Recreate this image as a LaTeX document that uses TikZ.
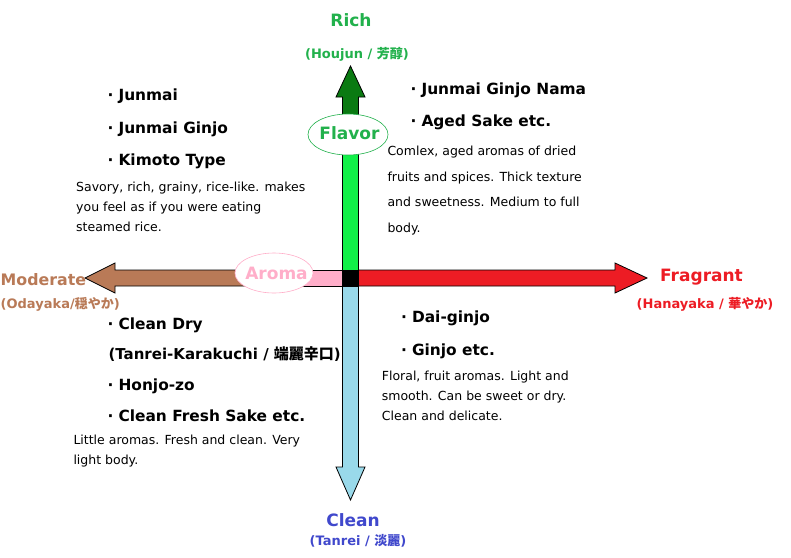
\documentclass[tikz,border=0pt]{standalone}
\usepackage{fontspec}
\setmainfont{DejaVu Sans}
\newfontfamily\jpfont{Noto Sans CJK JP}
\definecolor{richgreen}{HTML}{22B14C}
\definecolor{stemgreen}{HTML}{11F048}
\definecolor{headgreen}{HTML}{0A7A12}
\definecolor{fragred}{HTML}{ED1C24}
\definecolor{modbrown}{HTML}{B97A57}
\definecolor{aromapink}{HTML}{FFAEC9}
\definecolor{cleanblue}{HTML}{99D9EA}
\definecolor{cleanink}{HTML}{4048CC}

\begin{document}
\begin{tikzpicture}[x=1pt,y=-1pt,
		arrowbody/.style={draw=black,line width=0.8pt,line join=miter},
		axislabel/.style={anchor=base,inner sep=0pt,font=\bfseries\fontsize{17}{17}\selectfont},
		sublabel/.style={anchor=base,inner sep=0pt,font=\bfseries\fontsize{13}{13}\selectfont},
		item/.style={anchor=base west,inner sep=0pt,font=\bfseries\fontsize{15.4}{16}\selectfont},
		note/.style={anchor=base west,inner sep=0pt,align=left,font=\fontsize{12.5}{20}\selectfont}]
				\useasboundingbox[fill=white] (0,0) rectangle (791,557);
				% the four arrows of the taste chart
				\filldraw[arrowbody,fill=stemgreen] (342.5,118) rectangle (358.5,270);
				\filldraw[arrowbody,fill=headgreen] (342.5,118) -- (342.5,97) -- (336,97) -- (350.5,66)
					-- (365,97) -- (358.5,97) -- (358.5,118) -- cycle;
				\filldraw[arrowbody,fill=fragred] (358.5,270) -- (615,270) -- (615,263) -- (647,278)
					-- (615,293) -- (615,286) -- (358.5,286) -- cycle;
				\filldraw[arrowbody,fill=cleanblue] (342.5,286) -- (342.5,467) -- (336,467) -- (350.5,500)
					-- (365,467) -- (358.5,467) -- (358.5,286) -- cycle;
				\filldraw[arrowbody,fill=modbrown] (274,270) -- (115,270) -- (115,263) -- (85,278)
					-- (115,293) -- (115,286) -- (274,286) -- cycle;
				\filldraw[arrowbody,fill=aromapink] (274,270) rectangle (342.5,286);
				\filldraw[arrowbody,fill=black] (342.5,270) rectangle (358.5,286);
				% the two axis names in their bubbles
				\draw[richgreen,fill=white,line width=0.6pt] (348,134.5) ellipse [x radius=40,y radius=20.5];
				\node[axislabel,anchor=center,text=richgreen] (flavor) at (349.5,133) {Flavor};
				\draw[aromapink,fill=white,line width=0.6pt] (274,273) ellipse [x radius=39,y radius=20];
				\node[axislabel,anchor=center,text=aromapink] (aroma) at (276.5,273.5) {Aroma};
				% ends of the axes
				\node[axislabel,text=richgreen] (rich) at (351,26.7) {Rich};
				\node[sublabel,text=richgreen] (houjun) at (357,58) {(Houjun / {\jpfont 芳醇})};
				\node[axislabel,text=fragred] (fragrant) at (701.5,281.7) {Fragrant};
				\node[sublabel,text=fragred] (hanayaka) at (705,308.5) {(Hanayaka / {\jpfont 華やか})};
				\node[axislabel,anchor=base west,text=modbrown,font=\bfseries\fontsize{15.8}{16}\selectfont] (moderate) at (0.5,285) {Moderate};
				\node[sublabel,anchor=base west,text=modbrown] (odayaka) at (0.5,308.5) {(Odayaka/{\jpfont 穏やか})};
				\node[axislabel,text=cleanink] (clean) at (353,526) {Clean};
				\node[sublabel,text=cleanink] (tanrei) at (358,545) {(Tanrei / {\jpfont 淡麗})};
				% upper left: rich, mild aroma
				\node[item] (junmai) at (107.5,100.7) {·\hspace{5pt}Junmai};
				\node[item] (ginjo) at (107.5,133.3) {·\hspace{5pt}Junmai Ginjo};
				\node[item] (kimoto) at (107.5,165) {·\hspace{5pt}Kimoto Type};
				\node[note] (richnote) at (76,231) {Savory, rich, grainy, rice-like. makes\\you feel as if you were eating\\steamed rice.};
				% upper right: rich and fragrant
				\node[item] (nama) at (410.5,94) {·\hspace{5pt}Junmai Ginjo Nama};
				\node[item] (aged) at (410.5,126) {·\hspace{5pt}Aged Sake etc.};
				\node[note,font=\fontsize{12.5}{25.5}\selectfont] (agednote) at (387.3,232) {Comlex, aged aromas of dried\\fruits and spices. Thick texture\\and sweetness. Medium to full\\body.};
				% lower left: clean, mild aroma
				\node[item] (dry) at (107.5,329.3) {·\hspace{5pt}Clean Dry};
				\node[item,font=\bfseries\fontsize{15}{16}\selectfont] (karakuchi) at (108.3,359) {(Tanrei-Karakuchi / {\jpfont 端麗辛口})};
				\node[item] (honjo) at (107.5,390) {·\hspace{5pt}Honjo-zo};
				\node[item] (fresh) at (107.5,421.7) {·\hspace{5pt}Clean Fresh Sake etc.};
				\node[note] (drynote) at (73.3,464) {Little aromas. Fresh and clean. Very\\light body.};
				% lower right: clean and fragrant
				\node[item] (daiginjo) at (401,322.7) {·\hspace{5pt}Dai-ginjo};
				\node[item] (ginjoetc) at (401,355) {·\hspace{5pt}Ginjo etc.};
				\node[note,font=\fontsize{12.5}{19.7}\selectfont] (floralnote) at (381.7,420) {Floral, fruit aromas. Light and\\smooth. Can be sweet or dry.\\Clean and delicate.};
			\end{tikzpicture}
\end{document}
